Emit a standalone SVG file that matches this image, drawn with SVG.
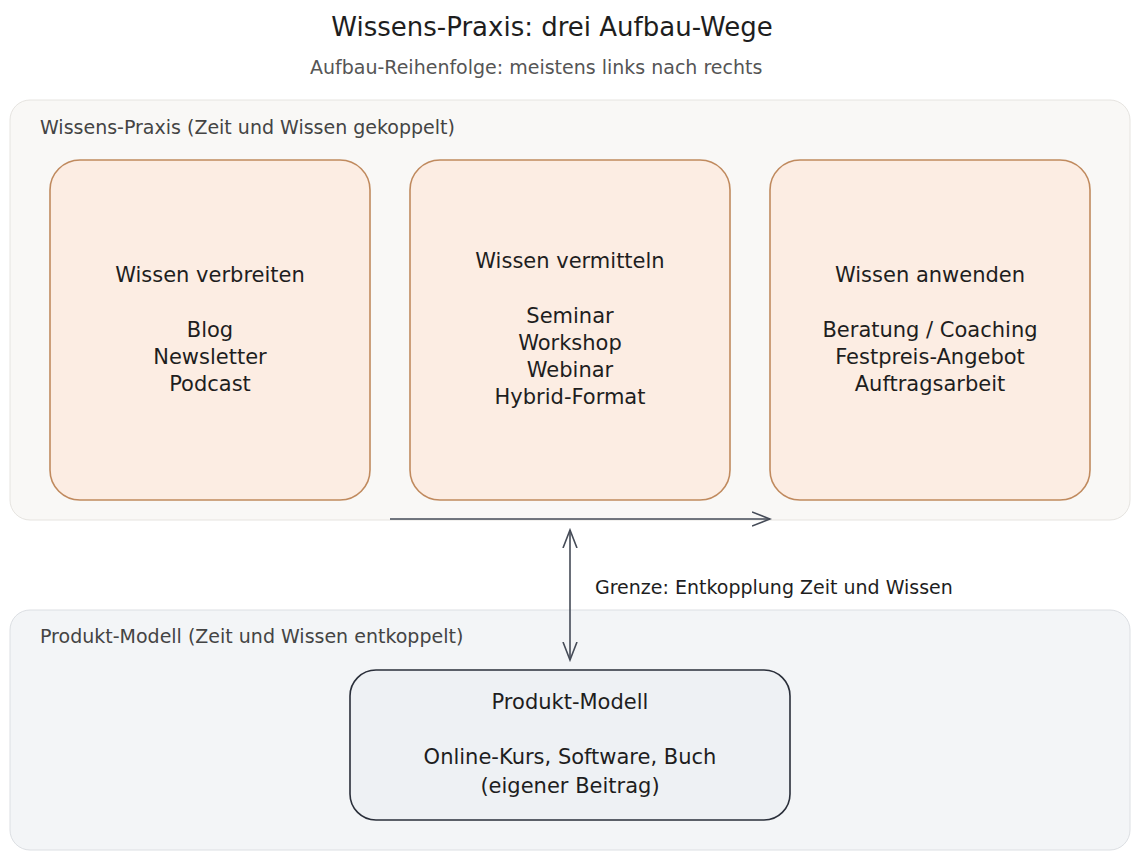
<svg xmlns="http://www.w3.org/2000/svg" width="1140" height="860" viewBox="0 0 1140 860">
  <defs>
    <style>
      text { font-family: "DejaVu Sans", "Liberation Sans", sans-serif; fill: #1e1e1e; }
      .title { font-size: 26px; text-anchor: middle; }
      .sub { font-size: 19px; fill: #555; }
      .glabel { font-size: 19px; fill: #444; }
      .node { font-size: 21px; text-anchor: middle; }
      .lbl { font-size: 19px; fill: #1e1e1e; }
      .grp1 { fill: #f9f8f6; stroke: #e6e4e0; stroke-width: 1; }
      .grp2 { fill: #f3f5f7; stroke: #dcdfe3; stroke-width: 1; }
      .card { fill: #fcede3; stroke: #c08a5e; stroke-width: 1.6; }
      .prod { fill: #eef1f4; stroke: #2a2f3a; stroke-width: 1.6; }
      .conn { fill: none; stroke: #454b57; stroke-width: 1.6; }
    </style>
    <marker id="arr" viewBox="0 0 20 20" refX="18" refY="10" markerWidth="20" markerHeight="20" markerUnits="userSpaceOnUse" orient="auto-start-reverse">
      <path d="M0,3 L18,10 L0,17" fill="none" stroke="#454b57" stroke-width="1.6"/>
    </marker>
  </defs>

  <text class="title" x="552" y="36">Wissens-Praxis: drei Aufbau-Wege</text>
  <text class="sub" x="310" y="74">Aufbau-Reihenfolge: meistens links nach rechts</text>

  <g id="group-praxis">
    <rect class="grp1" x="10" y="100" width="1120" height="420" rx="20"/>
    <text class="glabel" x="40" y="134">Wissens-Praxis (Zeit und Wissen gekoppelt)</text>
  </g>
  <g id="group-produkt">
    <rect class="grp2" x="10" y="610" width="1120" height="240" rx="20"/>
    <text class="glabel" x="40" y="643">Produkt-Modell (Zeit und Wissen entkoppelt)</text>
  </g>

  <g id="node-verbreiten">
    <rect class="card" x="50" y="160" width="320" height="340" rx="30"/>
    <text class="node" x="210" y="282">Wissen verbreiten</text>
    <text class="node" x="210" y="337">Blog</text>
    <text class="node" x="210" y="364">Newsletter</text>
    <text class="node" x="210" y="391">Podcast</text>
  </g>
  <g id="node-vermitteln">
    <rect class="card" x="410" y="160" width="320" height="340" rx="30"/>
    <text class="node" x="570" y="268">Wissen vermitteln</text>
    <text class="node" x="570" y="323">Seminar</text>
    <text class="node" x="570" y="350">Workshop</text>
    <text class="node" x="570" y="377">Webinar</text>
    <text class="node" x="570" y="404">Hybrid-Format</text>
  </g>
  <g id="node-anwenden">
    <rect class="card" x="770" y="160" width="320" height="340" rx="30"/>
    <text class="node" x="930" y="282">Wissen anwenden</text>
    <text class="node" x="930" y="337">Beratung / Coaching</text>
    <text class="node" x="930" y="364">Festpreis-Angebot</text>
    <text class="node" x="930" y="391">Auftragsarbeit</text>
  </g>
  <g id="node-produkt">
    <rect class="prod" x="350" y="670" width="440" height="150" rx="26"/>
    <text class="node" x="570" y="709">Produkt-Modell</text>
    <text class="node" x="570" y="764">Online-Kurs, Software, Buch</text>
    <text class="node" x="570" y="793">(eigener Beitrag)</text>
  </g>

  <g id="connectors">
    <path class="conn" d="M390,519 L770,519" marker-end="url(#arr)"/>
    <path class="conn" d="M570,530 L570,660" marker-start="url(#arr)" marker-end="url(#arr)"/>
    <text class="lbl" x="595" y="594">Grenze: Entkopplung Zeit und Wissen</text>
  </g>
</svg>
